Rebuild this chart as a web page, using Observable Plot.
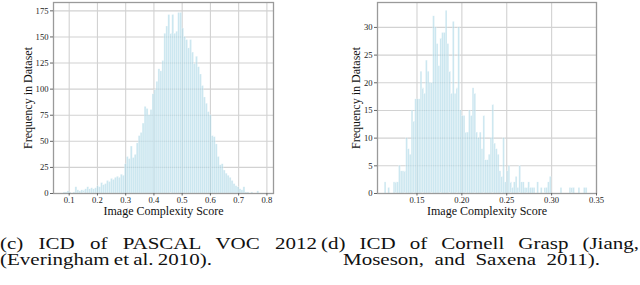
<!DOCTYPE html>
<html><head><meta charset="utf-8">
<script src="https://cdn.jsdelivr.net/npm/d3@7"></script>
<script src="https://cdn.jsdelivr.net/npm/@observablehq/plot@0.6"></script>
<style>
body{margin:0;background:#fff;width:640px;height:285px;overflow:hidden;font-family:"Liberation Serif","Times New Roman",Times,serif;}
#charts{display:flex;width:640px;}
#cap{position:relative;height:65px;width:640px;}
#cap span{position:absolute;white-space:nowrap;font-family:"Liberation Serif","Times New Roman",Times,serif;font-size:17.5px;line-height:15px;height:15px;transform-origin:0 0;color:#111;}
</style></head><body>
<div id="charts"></div>
<div id="cap">
<span id="c1">(c) ICD of PASCAL VOC 2012</span>
<span id="c2">(Everingham et al. 2010).</span>
<span id="d1">(d) ICD of Cornell Grasp (Jiang,</span>
<span id="d2">Moseson, and Saxena 2011).</span>
</div>
<script>
// PASCAL VOC 2012 histogram: bins of width 0.007 starting at 0.08
const vocStart = 0.08, vocWidth = 0.007;
const vocCounts = [
 1,1,2,1,0,1,6,3,2,3, 3,4,6,4,5,4,5,7,6,10,
 8,9,12,11,14,13,15,16,15,18, 17,28,35,33,45,34,37,48,55,58,
 67,83,81,75,80,95,99,107,119,117, 127,153,160,171,153,171,153,155,173,173,
 158,150,147,139,147,135,124,131,121,114, 103,92,86,78,75,55,54,47,35,27,
 28,22,19,17,15,12,9,7,6,4, 3,6,1,1,0,1,0,0,2,0
];
const vocXTicks = [0.1,0.2,0.3,0.4,0.5,0.6,0.7,0.8];
const vocYTicks = [0,25,50,75,100,125,150,175];

// Cornell Grasp histogram: bins of width 0.002 starting at 0.112
const cgStart = 0.112, cgWidth = 0.002;
const cgCounts = [
 0,2,0,1,0,0,2,2,2,5, 4,4,4,10,8,7,15,13,17,17,
 17,22,19,18,24,22,20,20,32,30, 27,23,28,29,29,33,27,22,18,31,
 18,19,30,15,14,14,11,11,15,14, 19,18,11,10,11,8,14,6,6,7,
 10,16,9,8,7,4,3,10,2,4, 5,2,1,2,3,1,5,2,2,1,
 1,2,1,1,1,0,2,0,1,0, 1,1,2,3,0,0,0,0,0,1,
 0,0,0,0,1,1,1,0,0,1, 0,0,1,1,0
];
const cgXTicks = [0.15,0.20,0.25,0.30,0.35];
const cgYTicks = [0,5,10,15,20,25,30];

const xTitle = "Image Complexity Score";
const yTitle = "Frequency in Dataset";

const serif = '"Liberation Serif", "Times New Roman", Times, serif';

function toBins(start, width, counts) {
  return counts.map((c, i) => ({x1: start + i * width, x2: start + (i + 1) * width, c}));
}

function hist({data, xDomain, yDomain, xTicks, yTicks, xFmt, marginLeft, marginRight, yLabelDx}) {
  return Plot.plot({
    width: 320, height: 220,
    marginTop: 2, marginBottom: 27, marginLeft, marginRight,
    style: {fontFamily: serif, fontSize: "8.6px", color: "#222", background: "#fff"},
    x: {domain: xDomain},
    y: {domain: yDomain},
    marks: [
      Plot.gridX(xTicks, {stroke: "#d2d2d2", strokeOpacity: 1, strokeWidth: 1.1}),
      Plot.gridY(yTicks, {stroke: "#d2d2d2", strokeOpacity: 1, strokeWidth: 1.1}),
      Plot.rectY(data, {x1: "x1", x2: "x2", y: "c", fill: "#add8e6", fillOpacity: 0.62,
        stroke: "#ffffff", strokeWidth: 0.4, strokeOpacity: 0.6}),
      Plot.frame({stroke: "#9a9a9a", strokeWidth: 1.3}),
      Plot.axisX(xTicks, {tickSize: 2.5, tickPadding: 0.5, tickFormat: xFmt, stroke: "#666", label: null}),
      Plot.axisY(yTicks, {tickSize: 3, tickPadding: 2, stroke: "#666", label: null}),
      Plot.text([xTitle], {frameAnchor: "bottom", dy: 21, fontSize: 12, fill: "#111"}),
      Plot.text([yTitle], {frameAnchor: "left", textAnchor: "middle", dx: yLabelDx, rotate: -90, fontSize: 12, fill: "#111"})
    ]
  });
}

const charts = document.getElementById("charts");
charts.append(hist({
  data: toBins(vocStart, vocWidth, vocCounts),
  xDomain: [0.0444, 0.8234], yDomain: [0, 183],
  xTicks: vocXTicks, yTicks: vocYTicks, xFmt: d3.format(".1f"),
  marginLeft: 53, marginRight: 47, yLabelDx: -25.3
}));
charts.append(hist({
  data: toBins(cgStart, cgWidth, cgCounts),
  xDomain: [0.106, 0.35], yDomain: [0, 34.5],
  xTicks: cgXTicks, yTicks: cgYTicks, xFmt: d3.format(".2f"),
  marginLeft: 57, marginRight: 44, yLabelDx: -21.3
}));

// caption layout
const s = 1.2;
function fit(id, x0, x1, top) {
  const el = document.getElementById(id);
  el.style.left = x0 + "px";
  el.style.top = top + "px";
  el.style.transform = `scaleX(${s})`;
  const w = el.getBoundingClientRect().width / s;
  const n = (el.textContent.match(/ /g) || []).length;
  el.style.wordSpacing = (((x1 - x0) / s - w) / n) + "px";
}
fit("c1", 0, 317, 15.7);
fit("d1", 321, 639, 15.7);
fit("c2", 0, 212, 31.7);
fit("d2", 343, 600, 31.7);
</script>
</body></html>
